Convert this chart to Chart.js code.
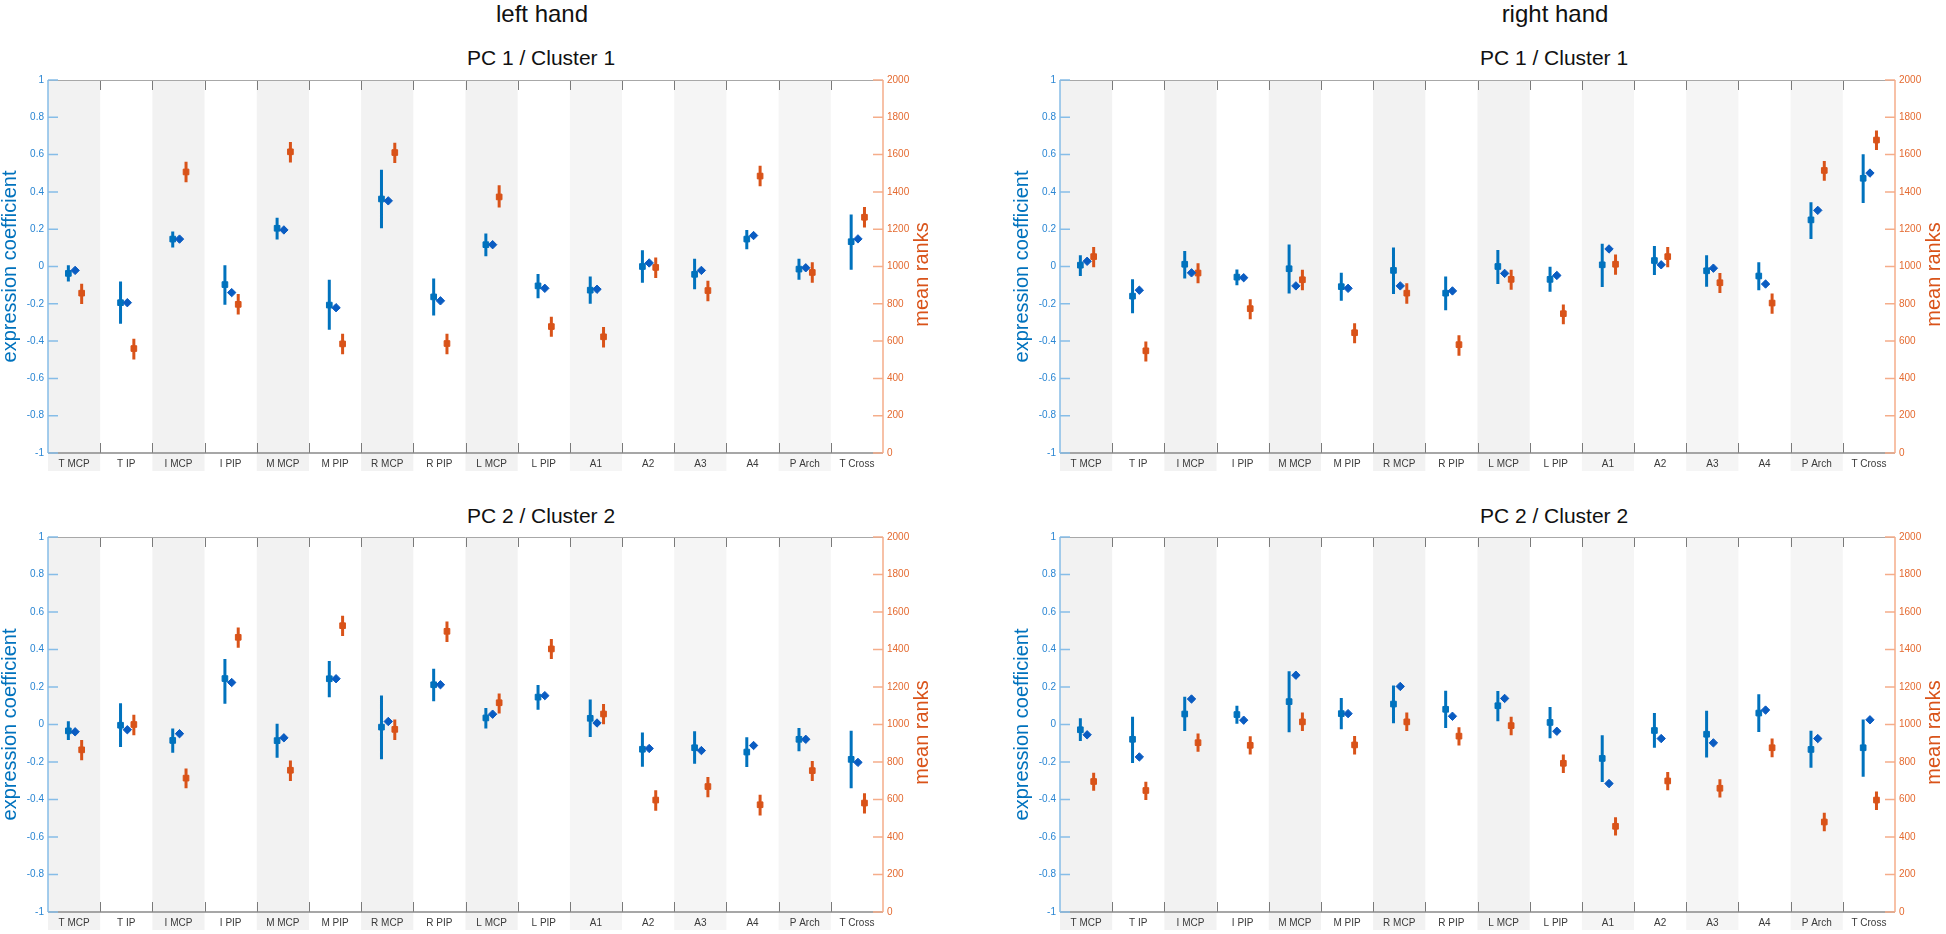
<!DOCTYPE html>
<html>
<head>
<meta charset="utf-8">
<script src="https://cdn.jsdelivr.net/npm/chart.js@4.4.1/dist/chart.umd.min.js"></script>
<style>
  body { margin: 0; background: #fff; width: 1946px; height: 934px; overflow: hidden; position: relative;
         font-family: "Liberation Sans", Arial, Helvetica, sans-serif; }
  .t { position: absolute; transform: translateX(-50%); white-space: nowrap; color: #111; line-height: 1; }
  .hand { font-size: 24px; top: 2px; }
  .pc { font-size: 21px; }
  .panel { position: absolute; width: 932px; }
</style>
</head>
<body>
<div class="t hand" style="left:542px">left hand</div>
<div class="t hand" style="left:1555px">right hand</div>
<div class="t pc" style="left:541px;top:47px">PC 1 / Cluster 1</div>
<div class="t pc" style="left:1554px;top:47px">PC 1 / Cluster 1</div>
<div class="t pc" style="left:541px;top:505px">PC 2 / Cluster 2</div>
<div class="t pc" style="left:1554px;top:505px">PC 2 / Cluster 2</div>

<div class="panel" style="left:0;top:70px;height:403px"><canvas id="leftPc1"></canvas></div>
<div class="panel" style="left:1012px;top:70px;height:403px"><canvas id="rightPc1"></canvas></div>
<div class="panel" style="left:0;top:527px;height:405px"><canvas id="leftPc2"></canvas></div>
<div class="panel" style="left:1012px;top:527px;height:405px"><canvas id="rightPc2"></canvas></div>

<script>
const categories = ["T MCP", "T IP", "I MCP", "I PIP", "M MCP", "M PIP", "R MCP", "R PIP",
                    "L MCP", "L PIP", "A1", "A2", "A3", "A4", "P Arch", "T Cross"];

// left hand, PC 1 / Cluster 1
const leftPc1Coef   = [-0.037, -0.194, 0.147, -0.097, 0.205, -0.207, 0.362, -0.163, 0.117, -0.104, -0.127, 0.0, -0.042, 0.147, -0.014, 0.133];
const leftPc1CoefLo = [-0.081, -0.307, 0.102, -0.205, 0.145, -0.339, 0.205, -0.263, 0.055, -0.17, -0.2, -0.087, -0.122, 0.092, -0.071, -0.018];
const leftPc1CoefHi = [0.007, -0.081, 0.187, 0.007, 0.261, -0.071, 0.519, -0.065, 0.177, -0.04, -0.053, 0.087, 0.041, 0.196, 0.041, 0.279];
const leftPc1Clust  = [-0.021, -0.194, 0.147, -0.14, 0.196, -0.221, 0.352, -0.184, 0.117, -0.117, -0.122, 0.019, -0.021, 0.166, -0.007, 0.148];
const leftPc1Rank   = [857, 560, 1507, 797, 1615, 585, 1611, 587, 1373, 678, 623, 995, 871, 1485, 968, 1264];
const leftPc1RankLo = [799, 502, 1452, 742, 1558, 530, 1555, 530, 1316, 623, 566, 938, 814, 1430, 913, 1209];
const leftPc1RankHi = [908, 613, 1562, 852, 1668, 640, 1664, 640, 1435, 731, 676, 1048, 924, 1540, 1023, 1319];

// right hand, PC 1 / Cluster 1
const rightPc1Coef   = [0.007, -0.159, 0.012, -0.057, -0.012, -0.108, -0.021, -0.143, 0.0, -0.069, 0.009, 0.032, -0.023, -0.051, 0.25, 0.473];
const rightPc1CoefLo = [-0.051, -0.251, -0.064, -0.101, -0.145, -0.184, -0.148, -0.235, -0.094, -0.136, -0.11, -0.046, -0.108, -0.127, 0.147, 0.34];
const rightPc1CoefHi = [0.06, -0.069, 0.083, -0.016, 0.118, -0.034, 0.102, -0.053, 0.088, -0.002, 0.122, 0.11, 0.06, 0.023, 0.345, 0.602];
const rightPc1Clust  = [0.028, -0.127, -0.034, -0.06, -0.104, -0.117, -0.104, -0.131, -0.037, -0.048, 0.094, 0.009, -0.009, -0.094, 0.301, 0.501];
const rightPc1Rank   = [1053, 548, 965, 774, 929, 645, 857, 581, 931, 747, 1012, 1053, 913, 804, 1515, 1678];
const rightPc1RankLo = [996, 490, 910, 717, 873, 588, 800, 522, 876, 690, 956, 996, 858, 747, 1460, 1625];
const rightPc1RankHi = [1104, 598, 1018, 825, 982, 696, 910, 632, 982, 796, 1065, 1104, 965, 855, 1566, 1729];

// left hand, PC 2 / Cluster 2
const leftPc2Coef   = [-0.034, -0.004, -0.085, 0.245, -0.086, 0.244, -0.014, 0.212, 0.035, 0.146, 0.033, -0.132, -0.124, -0.147, -0.079, -0.186];
const leftPc2CoefLo = [-0.083, -0.12, -0.15, 0.111, -0.177, 0.145, -0.185, 0.124, -0.021, 0.079, -0.066, -0.225, -0.209, -0.227, -0.142, -0.34];
const leftPc2CoefHi = [0.018, 0.113, -0.021, 0.35, 0.004, 0.339, 0.155, 0.297, 0.088, 0.211, 0.133, -0.043, -0.036, -0.068, -0.019, -0.033];
const leftPc2Clust  = [-0.039, -0.028, -0.049, 0.224, -0.071, 0.244, 0.016, 0.212, 0.055, 0.154, 0.008, -0.128, -0.139, -0.112, -0.079, -0.202];
const leftPc2Rank   = [865, 1000, 714, 1465, 756, 1527, 974, 1497, 1116, 1403, 1056, 597, 669, 572, 754, 581];
const leftPc2RankLo = [810, 943, 660, 1409, 699, 1472, 918, 1440, 1059, 1349, 1001, 540, 612, 515, 699, 526];
const leftPc2RankHi = [918, 1052, 766, 1518, 808, 1580, 1027, 1550, 1165, 1456, 1110, 650, 720, 625, 805, 634];

// right hand, PC 2 / Cluster 2
const rightPc2Coef   = [-0.028, -0.079, 0.056, 0.053, 0.122, 0.058, 0.109, 0.081, 0.1, 0.011, -0.181, -0.032, -0.052, 0.061, -0.133, -0.124];
const rightPc2CoefLo = [-0.088, -0.205, -0.035, 0.004, -0.041, -0.025, 0.007, -0.018, 0.017, -0.073, -0.306, -0.124, -0.176, -0.04, -0.23, -0.278];
const rightPc2CoefHi = [0.034, 0.042, 0.148, 0.1, 0.284, 0.141, 0.208, 0.18, 0.179, 0.094, -0.057, 0.061, 0.073, 0.162, -0.033, 0.027];
const rightPc2Clust  = [-0.055, -0.173, 0.136, 0.023, 0.263, 0.058, 0.203, 0.044, 0.139, -0.036, -0.315, -0.075, -0.098, 0.077, -0.075, 0.025];
const rightPc2Rank   = [696, 648, 903, 889, 1014, 891, 1014, 938, 994, 793, 457, 699, 660, 876, 480, 597];
const rightPc2RankLo = [647, 597, 855, 840, 965, 840, 965, 888, 943, 741, 408, 650, 611, 826, 431, 544];
const rightPc2RankHi = [743, 695, 952, 937, 1064, 939, 1064, 985, 1041, 840, 505, 747, 708, 925, 530, 643];

const FONT = '"Liberation Sans", Arial, Helvetica, sans-serif';
const BLUE = "#0072BD";
const DIAMOND = "#0a5cc2";
const ORANGE = "#D95319";
const COEF_OFF = -0.11, CLUST_OFF = 0.02, RANK_OFF = 0.145;

Chart.defaults.font.family = FONT;

// grey bands, frame, inward ticks (MATLAB style) and the right-hand axis title
const frame = {
  id: "frame",
  beforeDraw(chart) {
    const { ctx, chartArea: a, scales: { x } } = chart;
    ctx.save();
    categories.forEach((c, i) => {
      if (i % 2) return;
      const l = x.getPixelForValue(i - 0.5), r = x.getPixelForValue(i + 0.5);
      ctx.fillStyle = i < 9 ? "#f2f2f2" : "#f5f5f5";
      ctx.fillRect(l, a.top, r - l, a.bottom - a.top + 18);
    });
    ctx.restore();
  },
  beforeDatasetsDraw(chart) {
    const { ctx, chartArea: a, scales: { x, y, y2 } } = chart;
    ctx.save();
    ctx.lineWidth = 1;
    ctx.strokeStyle = "#7a7a7a";
    ctx.beginPath();
    for (let i = 0; i < categories.length - 1; i++) {
      const px = Math.round(x.getPixelForValue(i + 0.5)) + 0.5;
      ctx.moveTo(px, a.top); ctx.lineTo(px, a.top + 10);
      ctx.moveTo(px, a.bottom); ctx.lineTo(px, a.bottom - 10);
    }
    ctx.stroke();
    ctx.strokeStyle = "#a8a8a8";
    ctx.beginPath(); ctx.moveTo(a.left, a.top + 0.5); ctx.lineTo(a.right, a.top + 0.5); ctx.stroke();
    ctx.strokeStyle = "#8a8a8a"; ctx.lineWidth = 1.5;
    ctx.beginPath(); ctx.moveTo(a.left, a.bottom); ctx.lineTo(a.right, a.bottom); ctx.stroke();

    ctx.lineWidth = 1.5;
    ctx.strokeStyle = "#86bde8";
    ctx.beginPath();
    ctx.moveTo(a.left, a.top); ctx.lineTo(a.left, a.bottom);
    y.ticks.forEach(t => {
      const py = y.getPixelForValue(t.value);
      ctx.moveTo(a.left, py); ctx.lineTo(a.left + 10, py);
    });
    ctx.stroke();
    ctx.strokeStyle = "#f5ad8a";
    ctx.beginPath();
    ctx.moveTo(a.right, a.top); ctx.lineTo(a.right, a.bottom);
    y2.ticks.forEach(t => {
      const py = y2.getPixelForValue(t.value);
      ctx.moveTo(a.right, py); ctx.lineTo(a.right - 10, py);
    });
    ctx.stroke();
    ctx.restore();
  },
  afterDraw(chart) {
    const { ctx, chartArea: a, scales: { y2 } } = chart;
    ctx.save();
    ctx.translate(y2.right - 10, (a.top + a.bottom) / 2 + 8);
    ctx.rotate(-Math.PI / 2);
    ctx.fillStyle = ORANGE;
    ctx.font = "20px " + FONT;
    ctx.textAlign = "center";
    ctx.textBaseline = "middle";
    ctx.fillText("mean ranks", 0, 0);
    ctx.restore();
  }
};

function makePanel(id, coef, coefLo, coefHi, clust, rank, rankLo, rankHi) {
  const at = (vals, off) => vals.map((v, i) => ({ x: i + off, y: v }));
  const bars = (lo, hi, off) => lo.flatMap((v, i) => [{ x: i + off, y: v }, { x: i + off, y: hi[i] }, { x: i + off, y: null }]);
  const mark = (style, r, color) => ({ pointStyle: style, pointRadius: r, backgroundColor: color, borderColor: color, borderWidth: 1 });

  new Chart(document.getElementById(id), {
    type: "scatter",
    data: {
      datasets: [
        { data: at(clust, CLUST_OFF), yAxisID: "y", ...mark("rectRot", 4.2, DIAMOND) },
        { data: at(coef, COEF_OFF), yAxisID: "y", ...mark("rect", 4, BLUE) },
        { type: "line", data: bars(coefLo, coefHi, COEF_OFF), yAxisID: "y", borderColor: BLUE, borderWidth: 3,
          pointRadius: 0, spanGaps: false, fill: false },
        { data: at(rank, RANK_OFF), yAxisID: "y2", ...mark("rect", 4, ORANGE) },
        { type: "line", data: bars(rankLo, rankHi, RANK_OFF), yAxisID: "y2", borderColor: ORANGE, borderWidth: 3,
          pointRadius: 0, spanGaps: false, fill: false }
      ]
    },
    options: {
      responsive: true,
      maintainAspectRatio: false,
      animation: false,
      layout: { padding: { top: 7, left: 0, right: 0, bottom: 0 } },
      plugins: { legend: { display: false }, tooltip: { enabled: false } },
      scales: {
        x: {
          type: "linear", min: -0.5, max: 15.5,
          afterBuildTicks: s => { s.ticks = categories.map((c, i) => ({ value: i })); },
          afterFit: s => { s.height = 20; },
          grid: { display: false, drawTicks: false }, border: { display: false },
          ticks: { autoSkip: false, maxRotation: 0, padding: 5, color: "#3a3a3a", font: { size: 10 },
                   callback: v => categories[v] }
        },
        y: {
          position: "left", min: -1, max: 1,
          afterFit: s => { s.width = 48; },
          grid: { display: false, drawTicks: false }, border: { display: false },
          ticks: { stepSize: 0.2, padding: 4, color: "#2a86d3", font: { size: 10 },
                   callback: v => String(Math.round(v * 10) / 10) },
          title: { display: true, text: "expression coefficient", color: BLUE, padding: 0,
                   font: { size: 20, lineHeight: 1 } }
        },
        y2: {
          position: "right", min: 0, max: 2000,
          afterFit: s => { s.width = 49; },
          grid: { display: false, drawTicks: false }, border: { display: false },
          ticks: { stepSize: 200, padding: 4, color: "#e46a30", font: { size: 10 },
                   callback: v => String(Math.round(v)) }
        }
      }
    },
    plugins: [frame]
  });
}

makePanel("leftPc1", leftPc1Coef, leftPc1CoefLo, leftPc1CoefHi, leftPc1Clust, leftPc1Rank, leftPc1RankLo, leftPc1RankHi);
makePanel("rightPc1", rightPc1Coef, rightPc1CoefLo, rightPc1CoefHi, rightPc1Clust, rightPc1Rank, rightPc1RankLo, rightPc1RankHi);
makePanel("leftPc2", leftPc2Coef, leftPc2CoefLo, leftPc2CoefHi, leftPc2Clust, leftPc2Rank, leftPc2RankLo, leftPc2RankHi);
makePanel("rightPc2", rightPc2Coef, rightPc2CoefLo, rightPc2CoefHi, rightPc2Clust, rightPc2Rank, rightPc2RankLo, rightPc2RankHi);
</script>
</body>
</html>
